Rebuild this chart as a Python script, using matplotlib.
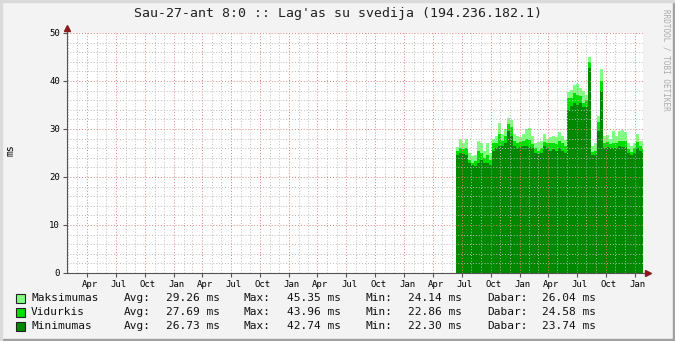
import matplotlib
matplotlib.use("Agg")
import matplotlib.pyplot as plt
import matplotlib.dates as mdates
from matplotlib.patches import Rectangle
from matplotlib.ticker import MultipleLocator
from matplotlib.transforms import ScaledTranslation
import pandas as pd

plt.rcParams['font.family'] = ['DejaVu Sans Mono']

W, H = 675, 341

# time span of the graph (5 years) and first sample of the data
t_start = pd.Timestamp('2005-01-27 08:00')
t_end = pd.Timestamp('2010-01-27 08:00')
data_start = '2008-06-13'

maks = [26.2, 28.0, 27.0, 28.0, 25.0, 24.3, 24.5, 27.5, 27.0, 25.5,
        27.0, 25.0, 28.0, 28.5, 31.3, 29.0, 30.0, 32.2, 31.8, 29.0,
        28.5, 28.3, 29.0, 30.0, 30.2, 28.5, 27.0, 27.2, 27.5, 29.0,
        28.0, 28.3, 28.5, 28.3, 29.3, 28.5, 27.8, 37.8, 38.2, 39.2,
        39.3, 38.5, 38.0, 37.0, 45.0, 26.5, 27.0, 32.7, 42.5, 28.5,
        28.8, 28.0, 29.5, 28.5, 29.5, 29.8, 29.3, 27.0, 26.5, 27.0,
        29.0, 27.5, 27.5]
vidurkis = [25.5, 26.0, 25.8, 26.0, 23.5, 23.0, 23.3, 25.5, 25.0, 24.0,
            24.5, 23.5, 27.0, 27.0, 29.0, 27.5, 28.5, 31.0, 30.5, 27.5,
            27.0, 27.3, 27.5, 28.0, 27.8, 26.8, 26.0, 25.5, 26.0, 27.3,
            27.0, 27.0, 27.0, 26.8, 27.5, 27.0, 26.5, 36.5, 36.5, 37.5,
            37.0, 36.8, 35.5, 36.0, 44.0, 25.3, 25.5, 31.5, 40.0, 27.0,
            27.3, 26.8, 27.0, 27.0, 27.5, 27.5, 27.5, 25.8, 25.2, 26.0,
            27.2, 26.5, 26.0]
minimumas = [24.5, 25.0, 24.8, 24.5, 23.0, 22.5, 22.3, 23.0, 23.5, 23.0,
             23.0, 22.5, 25.5, 26.0, 26.5, 26.5, 27.0, 29.5, 28.5, 26.5,
             26.0, 26.3, 26.5, 26.5, 26.3, 26.0, 25.0, 24.8, 25.0, 26.5,
             26.0, 25.5, 25.8, 25.5, 26.0, 25.5, 25.0, 34.0, 34.8, 35.5,
             35.0, 35.5, 34.5, 34.5, 42.7, 24.5, 24.5, 29.5, 38.0, 26.0,
             26.3, 26.0, 26.0, 26.0, 26.5, 26.3, 26.3, 25.0, 24.5, 25.0,
             26.0, 25.5, 25.0]

series_names = ['Maksimumas', 'Vidurkis', 'Minimumas']
series_colors = ['#80FF80', '#00DD00', '#008800']
avg_vals = ['29.26', '27.69', '26.73']
max_vals = ['45.35', '43.96', '42.74']
min_vals = ['24.14', '22.86', '22.30']
cur_vals = ['26.04', '24.58', '23.74']

title = "Sau-27-ant 8:0 :: Lag'as su svedija (194.236.182.1)"


def fx(px):
    return px / W


def fy(py):
    return 1 - py / H


fig = plt.figure(figsize=(W / 100, H / 100), dpi=100, facecolor='#F3F3F3')
ax = fig.add_axes([fx(67), fy(273), 576 / W, 240 / H])
ax.set_facecolor('white')

dates = list(pd.date_range(data_start, periods=len(maks), freq='228h')) + [t_end]
for vals, col in zip([maks, vidurkis, minimumas], series_colors):
    ax.fill_between(dates, 0, vals + [vals[-1]], step='post', color=col, lw=0, zorder=2)

ax.set_xlim(t_start, t_end)
ax.set_ylim(0, 50)

ax.xaxis.set_major_locator(mdates.MonthLocator(bymonth=[1, 4, 7, 10]))
ax.xaxis.set_minor_locator(mdates.MonthLocator())
ax.xaxis.set_major_formatter(mdates.DateFormatter('%b'))
ax.yaxis.set_major_locator(MultipleLocator(10))
ax.yaxis.set_minor_locator(MultipleLocator(2))

ax.grid(which='minor', color='#BBBBBB', ls=(0, (1, 2)), lw=0.7)
ax.grid(which='major', color='#E08080', ls=(0, (1, 2)), lw=0.7)
for gl in ax.get_xgridlines() + ax.get_ygridlines():
    gl.set_zorder(3)
ax.set_axisbelow(False)

for s in ['top', 'right']:
    ax.spines[s].set_visible(False)
for s in ['left', 'bottom']:
    ax.spines[s].set_color('#555555')
    ax.spines[s].set_linewidth(0.8)
    ax.spines[s].set_zorder(4)

ax.tick_params(which='major', length=3, width=0.8, color='#555555', labelsize=6.5,
               pad=2, labelcolor='black')
ax.tick_params(which='minor', length=0)

# rrdtool puts month labels slightly right of the grid line
shift = ScaledTranslation(3 / 100, 0, fig.dpi_scale_trans)
for lab in ax.get_xticklabels():
    lab.set_transform(lab.get_transform() + shift)

# axis arrows
arrow_col = '#8B1A1A'
ax.plot([0, 0], [1, 1.02], color='#555555', lw=0.8, transform=ax.transAxes, clip_on=False)
ax.plot([1, 1.009], [0, 0], color='#555555', lw=0.8, transform=ax.transAxes, clip_on=False)
ax.plot([0], [1.02], marker='^', ms=4, color=arrow_col, transform=ax.transAxes, clip_on=False)
ax.plot([1.009], [0], marker='>', ms=4, color=arrow_col, transform=ax.transAxes, clip_on=False)

fig.text(fx(338), fy(13), title, ha='center', va='center', fontsize=9.5, color='#222222')
fig.text(fx(10), fy(150), 'ms', rotation=90, ha='center', va='center', fontsize=7)
fig.text(fx(666), fy(60), 'RRDTOOL / TOBI OETIKER', rotation=270, ha='center',
         va='center', fontsize=5.5, color='#AAAAAA')

# legend rows
cols_x = [31, 124, 166, 244, 287, 365, 408, 487, 542]
for i, name in enumerate(series_names):
    yrow = 298 + 14 * i
    fig.patches.append(Rectangle((fx(16), fy(yrow + 4.5)), 9 / W, 9 / H,
                                 transform=fig.transFigure, facecolor=series_colors[i],
                                 edgecolor='#222222', lw=0.8))
    parts = [name, 'Avg:', avg_vals[i] + ' ms', 'Max:', max_vals[i] + ' ms',
             'Min:', min_vals[i] + ' ms', 'Dabar:', cur_vals[i] + ' ms']
    for xp, txt in zip(cols_x, parts):
        fig.text(fx(xp), fy(yrow), txt, ha='left', va='center', fontsize=8, color='#111111')

# shaded border
fig.patches.append(Rectangle((0, 0), 1, 2 / H, transform=fig.transFigure, color='#A0A0A0'))
fig.patches.append(Rectangle((1 - 2 / W, 0), 2 / W, 1, transform=fig.transFigure, color='#A0A0A0'))
fig.patches.append(Rectangle((0, 1 - 2 / H), 1, 2 / H, transform=fig.transFigure, color='#DADADA'))
fig.patches.append(Rectangle((0, 0), 2 / W, 1, transform=fig.transFigure, color='#DADADA'))

fig.savefig('out.png', dpi=100, facecolor=fig.get_facecolor())
